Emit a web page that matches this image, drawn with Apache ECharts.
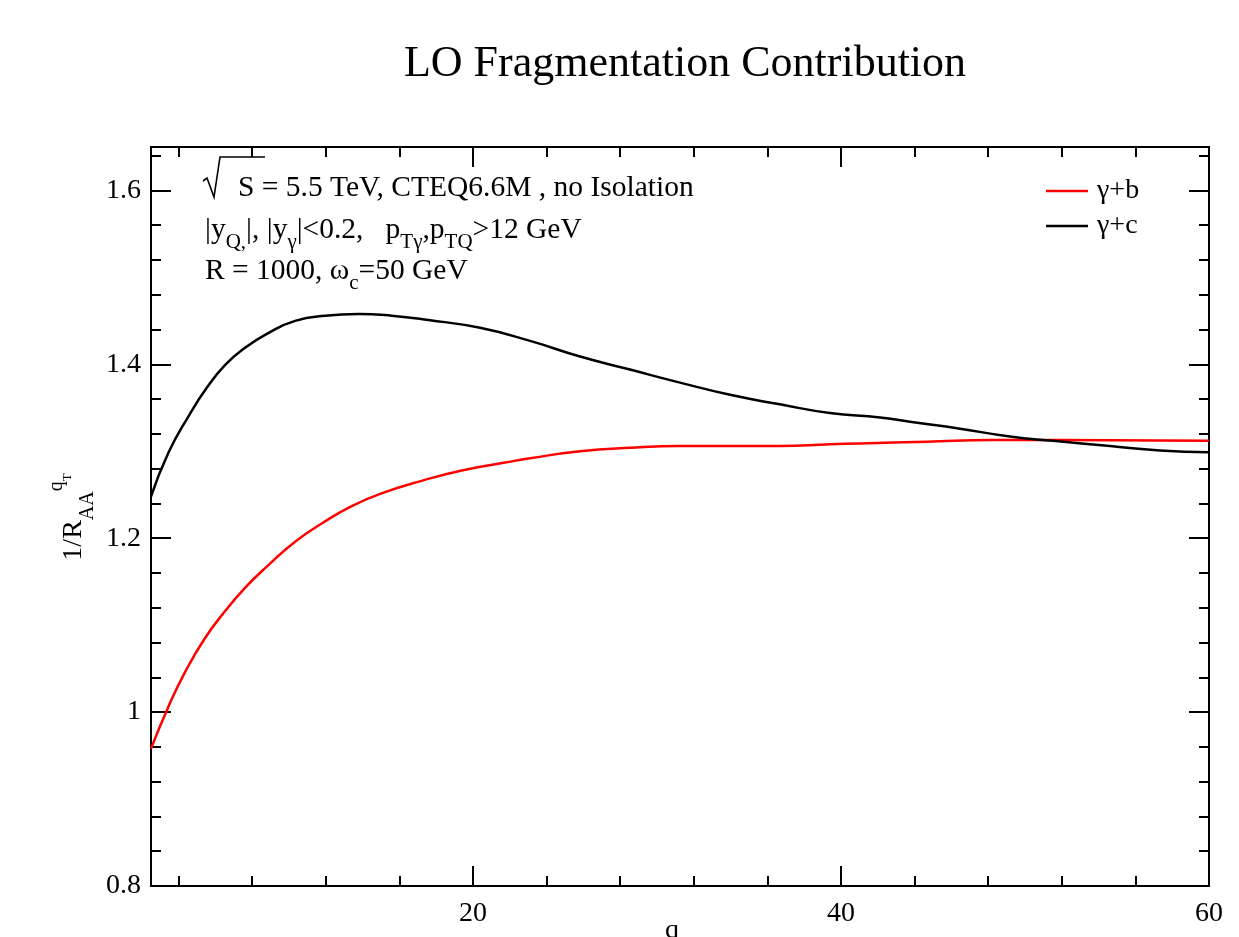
<!DOCTYPE html>
<html>
<head>
<meta charset="utf-8">
<title>LO Fragmentation Contribution</title>
<script src="https://cdn.jsdelivr.net/npm/echarts@6/dist/echarts.min.js"></script>
<style>
  html, body { margin: 0; padding: 0; background: #fff; }
  #chart { width: 1239px; height: 937px; }
</style>
</head>
<body>
<div id="chart"></div>
<script>
// gamma + b
const bQt = [2.5, 3.44, 4.35, 5.43, 6.52, 7.61, 8.88, 10.33, 11.78, 13.41, 15.22, 17.21, 19.39, 21.74, 23.1, 25.82, 28.53, 31.25, 33.97, 36.68, 39.4, 41.03, 44.66, 48.26, 51.9, 60]
const bRatio = [0.958, 1.006, 1.046, 1.085, 1.116, 1.143, 1.169, 1.196, 1.217, 1.237, 1.253, 1.266, 1.278, 1.287, 1.292, 1.3, 1.304, 1.306, 1.306, 1.306, 1.308, 1.309, 1.311, 1.313, 1.313, 1.312]

// gamma + c
const cQt = [2.5, 3.44, 4.53, 5.53, 6.52, 7.61, 8.88, 10.33, 11.96, 13.77, 15.58, 17.57, 20.38, 23.1, 25.82, 28.53, 31.25, 33.97, 36.68, 39.4, 42.12, 43.75, 46.47, 49.18, 51.52, 54.62, 57.34, 60]
const cRatio = [1.248, 1.298, 1.34, 1.373, 1.399, 1.419, 1.436, 1.45, 1.456, 1.458, 1.456, 1.451, 1.442, 1.427, 1.409, 1.394, 1.379, 1.365, 1.354, 1.344, 1.339, 1.334, 1.326, 1.317, 1.312, 1.306, 1.301, 1.299]

const xMajor = [20, 40, 60]
const xMinor = [4, 8, 12, 16, 24, 28, 32, 36, 44, 48, 52, 56]
const yMajor = [0.8, 1, 1.2, 1.4, 1.6]
const yMinor = [0.84, 0.88, 0.92, 0.96, 1.04, 1.08, 1.12, 1.16, 1.24, 1.28, 1.32, 1.36, 1.44, 1.48, 1.52, 1.56, 1.64]

const serif = 'Liberation Serif'
const ink = '#000'

const myChart = echarts.init(document.getElementById('chart'))

function makeAxis(position, min, max, ticks, len, showLabel, margin) {
  return {
    type: 'value',
    position,
    min,
    max,
    axisLine: { show: true, onZero: false, lineStyle: { color: ink, width: 2 } },
    axisTick: {
      show: true,
      inside: true,
      length: len,
      customValues: ticks,
      lineStyle: { color: ink, width: 2 },
    },
    axisLabel: {
      show: showLabel,
      customValues: ticks,
      color: ink,
      fontFamily: serif,
      fontSize: 28,
      margin: margin || 10,
    },
    splitLine: { show: false },
  }
}

const txt = (extra) => Object.assign({ fontFamily: serif, fontSize: 29.5, fill: ink, verticalAlign: 'middle', textVerticalAlign: 'middle' }, extra)
const subStyle = { fontFamily: serif, fontSize: 21, padding: [24, 0, 0, 0] }

const option = {
  animation: false,
  backgroundColor: '#fff',
  title: {
    text: 'LO Fragmentation Contribution',
    left: 680,
    top: 37,
    textAlign: 'center',
    textStyle: { fontFamily: serif, fontSize: 44, fontWeight: 'normal', color: ink },
  },
  legend: {
    orient: 'vertical',
    left: 1041,
    top: 172,
    icon: 'rect',
    itemWidth: 42,
    itemHeight: 2.5,
    itemGap: 7,
    textStyle: { fontFamily: serif, fontSize: 28, color: ink, padding: [0, 0, 0, 4] },
    data: ['γ+b', 'γ+c'],
  },
  grid: { left: 151, right: 30, top: 147, bottom: 51, outerBoundsMode: 'none' },
  xAxis: [
    makeAxis('bottom', 2.5, 60, xMajor, 20, true, 14),
    makeAxis('bottom', 2.5, 60, xMinor, 10, false),
    makeAxis('top', 2.5, 60, xMajor, 20, false),
    makeAxis('top', 2.5, 60, xMinor, 10, false),
  ],
  yAxis: [
    makeAxis('left', 0.8, 1.65, yMajor, 20, true),
    makeAxis('left', 0.8, 1.65, yMinor, 10, false),
    makeAxis('right', 0.8, 1.65, yMajor, 20, false),
    makeAxis('right', 0.8, 1.65, yMinor, 10, false),
  ],
  graphic: [
    // radical sign over S
    {
      type: 'polyline',
      shape: { points: [[203, 181], [207, 178], [214, 197], [220, 157], [265, 157]] },
      style: { stroke: ink, fill: null, lineWidth: 1.6 },
    },
    { type: 'text', x: 238, y: 188, style: txt({ text: 'S = 5.5 TeV, CTEQ6.6M , no Isolation' }) },
    {
      type: 'text', x: 205, y: 230,
      style: txt({
        text: '|y{s|Q,}|, |y{s|γ}|<0.2,   p{s|Tγ},p{s|TQ}>12 GeV',
        rich: { s: subStyle },
      }),
    },
    {
      type: 'text', x: 205, y: 271,
      style: txt({
        text: 'R = 1000, ω{s|c}=50 GeV',
        rich: { s: subStyle },
      }),
    },
    {
      type: 'text', x: 74, y: 517, rotation: Math.PI / 2,
      style: txt({
        text: '1/R{sub|AA}{sup|q}{supsub|T}',
        fontSize: 28,
        align: 'center', textAlign: 'center',
        rich: {
          sub: { fontFamily: serif, fontSize: 20, padding: [28, 0, 0, 0] },
          sup: { fontFamily: serif, fontSize: 20, padding: [0, 0, 34, 0] },
          supsub: { fontFamily: serif, fontSize: 13, padding: [0, 0, 12, 0] },
        },
      }),
    },
    { type: 'text', x: 672, y: 917, style: txt({ text: 'q', fontSize: 28, align: 'center', textAlign: 'center', verticalAlign: 'top', textVerticalAlign: 'top' }) },
  ],
  series: [
    {
      name: 'γ+b',
      type: 'line',
      data: bQt.map((q, i) => [q, bRatio[i]]),
      showSymbol: false,
      symbol: 'none',
      smooth: 0.5,
      lineStyle: { color: '#ff0000', width: 2.5 },
      itemStyle: { color: '#ff0000' },
    },
    {
      name: 'γ+c',
      type: 'line',
      data: cQt.map((q, i) => [q, cRatio[i]]),
      showSymbol: false,
      symbol: 'none',
      smooth: 0.5,
      lineStyle: { color: ink, width: 2.5 },
      itemStyle: { color: ink },
    },
  ],
}

myChart.setOption(option)
</script>
</body>
</html>
